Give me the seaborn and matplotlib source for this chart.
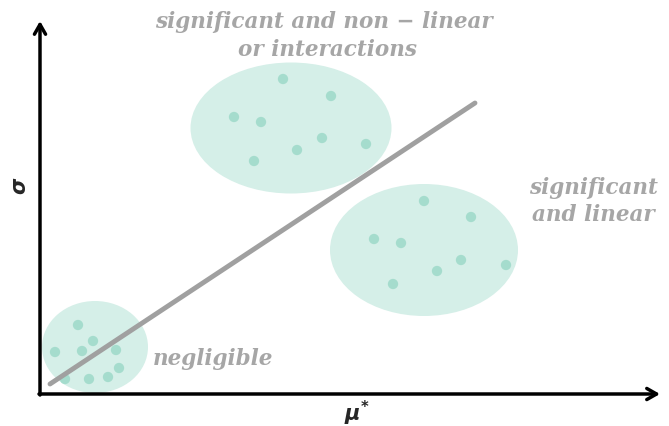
import numpy as np
import pandas as pd
import seaborn as sns
import matplotlib.pyplot as plt
from matplotlib.patches import Ellipse

# schematic, coordinates in picture units (x right, y down)
pts_top_x = [283, 331, 234, 261, 322, 297, 366, 254]
pts_top_y = [80, 97, 118, 123, 139, 151, 145, 162]
pts_right_x = [424, 471, 374, 401, 461, 437, 506, 393]
pts_right_y = [202, 218, 240, 244, 261, 272, 266, 285]
pts_low_x = [78, 93, 55, 82, 116, 119, 65, 89, 108]
pts_low_y = [326, 342, 353, 352, 351, 369, 380, 380, 378]

groups = ["non-linear", "linear", "negligible"]
ell_cx = [291, 424, 95]
ell_cy = [129, 251, 348]
ell_w = [201, 188, 106]
ell_h = [131, 132, 92]

trend_x = [50, 475]
trend_y = [385, 104]

df = pd.DataFrame({
    "x": pts_top_x + pts_right_x + pts_low_x,
    "y": pts_top_y + pts_right_y + pts_low_y,
})

sns.set_style("white")
fig = plt.figure(figsize=(6.69, 4.27), dpi=100)
ax = fig.add_axes([0, 0, 1, 1])
ax.set_xlim(0, 669)
ax.set_ylim(427, 0)
ax.axis("off")

for cx, cy, w, h in zip(ell_cx, ell_cy, ell_w, ell_h):
    ax.add_patch(Ellipse((cx, cy), w, h, facecolor="#d5efe8", edgecolor="none", zorder=1))

sns.scatterplot(data=df, x="x", y="y", color="#a5dccd", s=55, edgecolor="none", ax=ax, zorder=2)
sns.lineplot(x=trend_x, y=trend_y, color="#a0a0a0", linewidth=3.5, ax=ax, zorder=3)

# axes arrows
head = dict(arrowstyle="->,head_length=0.7,head_width=0.4", color="black", lw=2.5, shrinkA=0, shrinkB=0)
ax.annotate("", xy=(40, 22), xytext=(40, 396), arrowprops=head)
ax.annotate("", xy=(660, 395), xytext=(39, 395), arrowprops=head)

ax.text(20, 186, r"$\boldsymbol{\sigma}$", rotation=90, fontsize=15, ha="center", va="center")
ax.text(357, 413, r"$\boldsymbol{\mu}^{\boldsymbol{*}}$", fontsize=15, ha="center", va="center")

txt = dict(family="DejaVu Serif", style="italic", weight="bold", color="#a6a6a6", fontsize=15.5)
ax.text(324, 22, "significant and non \u2212 linear", ha="center", va="center", **txt)
ax.text(327, 50, "or interactions", ha="center", va="center", **txt)
ax.text(529, 188, "significant", ha="left", va="center", **txt)
ax.text(532, 215, "and linear", ha="left", va="center", **txt)
ax.text(153, 359, "negligible", ha="left", va="center", **txt)

fig.savefig("out.png", dpi=100)
